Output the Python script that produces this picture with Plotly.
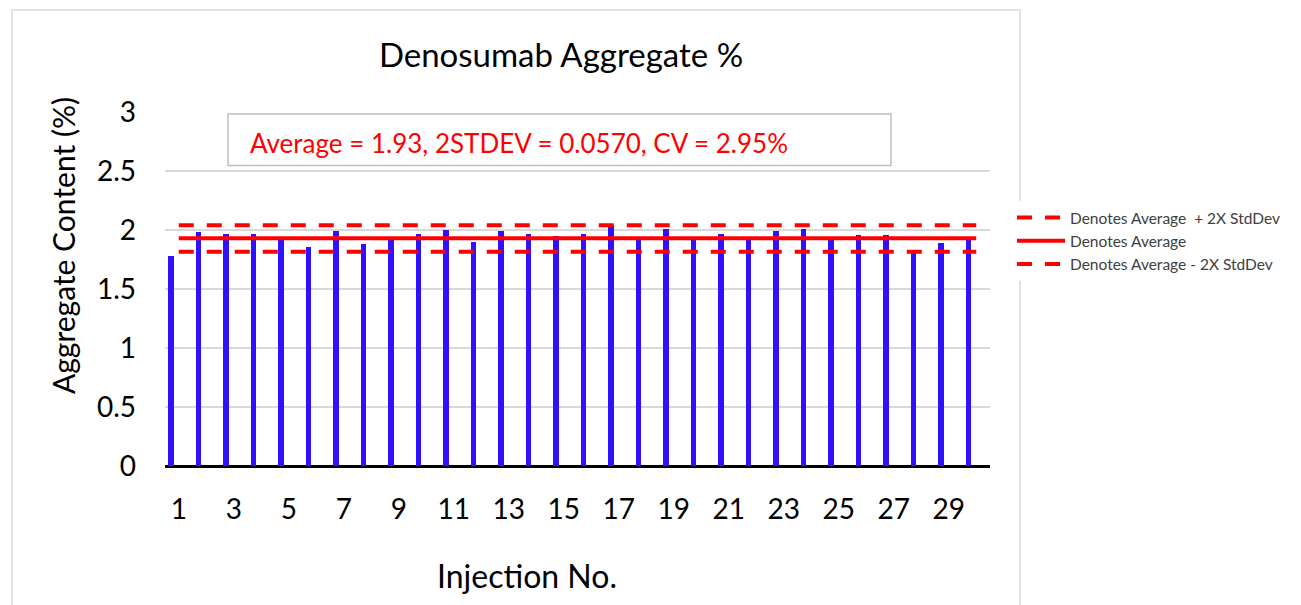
import plotly.graph_objects as go

# ---- data ----
injections = list(range(1, 31))
aggregate_pct = [1.78, 1.98, 1.97, 1.97, 1.92, 1.86, 1.99, 1.88, 1.93, 1.97,
                 2.00, 1.90, 1.99, 1.97, 1.95, 1.97, 2.04, 1.92, 2.01, 1.92,
                 1.97, 1.92, 1.99, 2.01, 1.92, 1.96, 1.96, 1.82, 1.89, 1.92]
upper_limit = 2.04
average = 1.93
lower_limit = 1.815
tick_values = list(range(1, 31, 2))
tick_labels = [str(v) for v in tick_values]
y_ticks = [0, 0.5, 1, 1.5, 2, 2.5, 3]
y_tick_labels = ["0", "0.5", "1", "1.5", "2", "2.5", "3"]

title_text = "Denosumab Aggregate %"
stats_text = "Average = 1.93, 2STDEV = 0.0570, CV = 2.95%"
legend_names = ["Denotes Average  + 2X StdDev", "Denotes Average", "Denotes Average - 2X StdDev"]

FONT = "Lato"
W, H = 1301, 605
L, R, T, B = 165, 990, 112, 466  # plot area pixel bounds
pw, ph = R - L, B - T


def px(x):
    return (x - L) / pw


def py(y):
    return (B - y) / ph


fig = go.Figure()
fig.add_trace(go.Bar(
    x=injections, y=aggregate_pct, width=0.21, offset=-0.385,
    marker=dict(color="#3010FF", line=dict(width=0)), showlegend=False,
))
for val, name, dash in [(upper_limit, legend_names[0], "15px,13px"),
                        (average, legend_names[1], "solid"),
                        (lower_limit, legend_names[2], "15px,13px")]:
    fig.add_trace(go.Scatter(
        x=injections, y=[val] * len(injections), mode="lines", name=name,
        line=dict(color="#FF0000", width=4, dash=dash),
    ))

fig.update_layout(
    width=W, height=H,
    margin=dict(l=L, r=W - R, t=T, b=H - B, pad=0),
    paper_bgcolor="white", plot_bgcolor="white",
    font=dict(family=FONT, color="black"),
    title=dict(text=title_text, x=561 / W, xanchor="center", y=1 - 55 / H,
               yanchor="middle", xref="container", yref="container",
               font=dict(family=FONT, size=33, color="black")),
    bargap=0,
    showlegend=True,
    legend=dict(x=px(1012), xanchor="left", y=py(201), yanchor="top",
                bgcolor="white", borderwidth=0, itemwidth=48,
                font=dict(family=FONT, size=15.5, color="#404040"),
                tracegroupgap=0, itemclick=False),
    xaxis=dict(range=[0.5, 30.5], tickmode="array", tickvals=tick_values,
               ticktext=tick_labels, showgrid=False, zeroline=False,
               showline=False, ticks="", ticklabelstandoff=24,
               tickfont=dict(family=FONT, size=28, color="black")),
    yaxis=dict(range=[0, 3], tickmode="array", tickvals=y_ticks,
               ticktext=y_tick_labels, showgrid=True, gridcolor="#D9D9D9",
               gridwidth=1.5, zeroline=True, zerolinecolor="black",
               zerolinewidth=2.5, showline=False, ticks="",
               ticklabelstandoff=28,
               tickfont=dict(family=FONT, size=28, color="black")),
    shapes=[
        dict(type="rect", xref="paper", yref="paper",
             x0=px(12), x1=px(1020), y0=py(640), y1=py(10),
             line=dict(color="#D9D9D9", width=1.5), fillcolor="rgba(0,0,0,0)",
             layer="below"),
        dict(type="rect", xref="paper", yref="paper",
             x0=px(228), x1=px(891), y0=py(165.5), y1=py(114),
             line=dict(color="#BFBFBF", width=1.5), fillcolor="white",
             layer="above"),
    ],
    annotations=[
        dict(text=stats_text, xref="paper", yref="paper", x=px(248), y=py(143),
             xanchor="left", yanchor="middle", showarrow=False,
             font=dict(family=FONT, size=26, color="#FF0000")),
        dict(text="Aggregate Content (%)", xref="paper", yref="paper",
             x=px(63), y=py(246), xanchor="center", yanchor="middle",
             textangle=-90, showarrow=False,
             font=dict(family=FONT, size=30, color="black")),
        dict(text="Injection No.", xref="paper", yref="paper",
             x=px(527), y=py(575), xanchor="center", yanchor="middle",
             showarrow=False, font=dict(family=FONT, size=32, color="black")),
    ],
)

fig.write_html(
    "out.html",
    config={"displayModeBar": False},
    post_script="document.body.style.margin='0';document.body.style.overflow='hidden';",
)
